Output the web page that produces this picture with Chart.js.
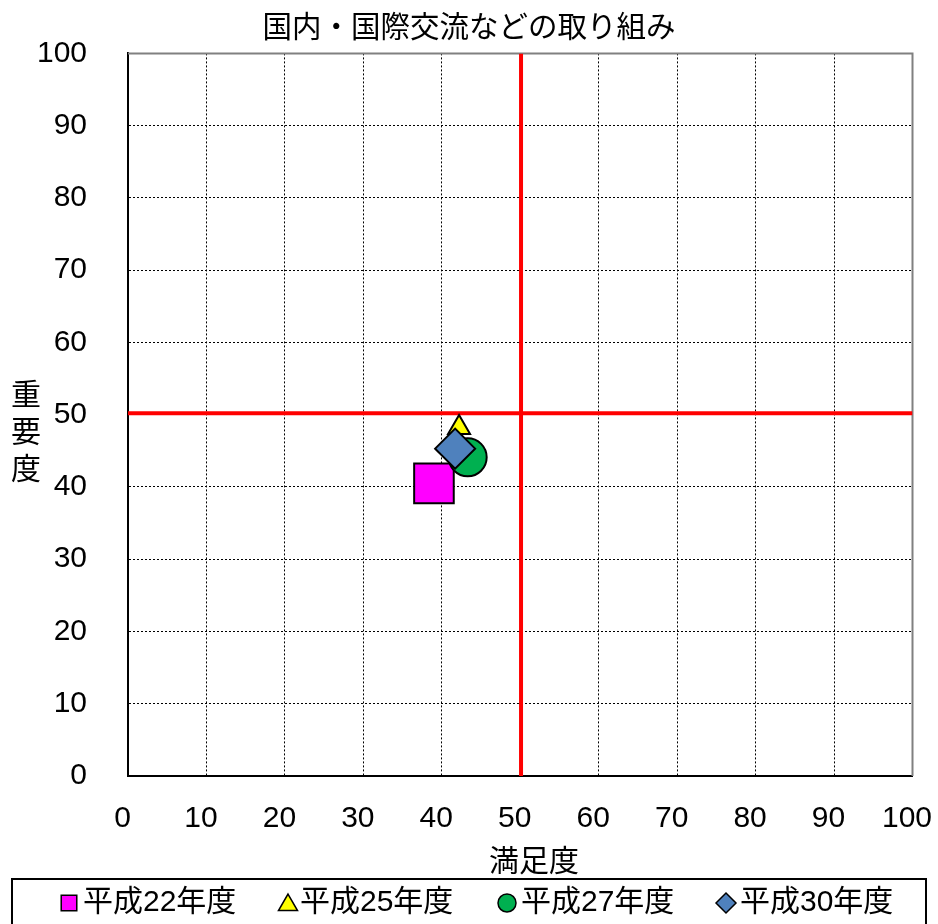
<!DOCTYPE html>
<html>
<head>
<meta charset="utf-8">
<script src="https://cdn.jsdelivr.net/npm/chart.js@4/dist/chart.umd.min.js"></script>
<style>
html,body{margin:0;padding:0;background:#fff;}
#wrap{width:938px;height:924px;}
</style>
</head>
<body>
<div id="wrap"><canvas id="c" width="938" height="924"></canvas></div>
<script>
// ---- data ----
const chartTitle = '国内・国際交流などの取り組み';
const xAxisTitle = '満足度';
const yAxisTitle = ['重', '要', '度'];
const seriesLabels = ['平成22年度', '平成25年度', '平成27年度', '平成30年度'];
const satisfaction = [39.0, 42.2, 43.3, 41.7];
const importance = [40.5, 48.2, 44.1, 45.3];
const avgSatisfaction = 50.1;
const avgImportance = 50.2;
const axisMin = 0;
const axisMax = 100;
const axisStep = 10;

// ---- styles ----
const FONT = '"Liberation Sans", "Noto Sans CJK JP", sans-serif';
const styles = [
  {pointStyle: 'rect', color: '#FF00FF', radius: 28, legendR: 11},
  {pointStyle: 'triangle', color: '#FFFF00', radius: 12.7, legendR: 11},
  {pointStyle: 'circle', color: '#00B050', radius: 19, legendR: 9},
  {pointStyle: 'rectRot', color: '#4F81BD', radius: 20, legendR: 10}
];
const drawOrder = [4, 3, 2, 1];

const datasets = [];
// average lines
datasets.push({
  type: 'line', label: 'avgX',
  data: [{x: avgSatisfaction, y: axisMin}, {x: avgSatisfaction, y: axisMax}],
  borderColor: '#FF0000', borderWidth: 4, pointRadius: 0, showLine: true, fill: false, order: 10
});
datasets.push({
  type: 'line', label: 'avgY',
  data: [{x: axisMin, y: avgImportance}, {x: axisMax, y: avgImportance}],
  borderColor: '#FF0000', borderWidth: 4, pointRadius: 0, showLine: true, fill: false, order: 11
});
seriesLabels.forEach((lab, i) => {
  datasets.push({
    type: 'scatter', label: lab,
    data: [{x: satisfaction[i], y: importance[i]}],
    pointStyle: styles[i].pointStyle,
    pointRadius: styles[i].radius,
    pointHoverRadius: styles[i].radius,
    pointBackgroundColor: styles[i].color,
    pointBorderColor: '#000000',
    pointBorderWidth: 2,
    order: drawOrder[i]
  });
});

function drawMarker(ctx, style, x, y, r) {
  ctx.beginPath();
  if (style === 'rect') {
    const s = r * Math.SQRT1_2;
    ctx.rect(x - s, y - s, 2 * s, 2 * s);
  } else if (style === 'triangle') {
    ctx.moveTo(x, y - r);
    ctx.lineTo(x + r * 0.866, y + r * 0.5);
    ctx.lineTo(x - r * 0.866, y + r * 0.5);
    ctx.closePath();
  } else if (style === 'circle') {
    ctx.arc(x, y, r, 0, Math.PI * 2);
  } else {
    ctx.moveTo(x - r, y);
    ctx.lineTo(x, y - r);
    ctx.lineTo(x + r, y);
    ctx.lineTo(x, y + r);
    ctx.closePath();
  }
  ctx.fill();
  ctx.stroke();
}

const decor = {
  id: 'decor',
  beforeDatasetsDraw(chart) {
    const {ctx, chartArea: a} = chart;
    ctx.save();
    ctx.strokeStyle = '#808080';
    ctx.lineWidth = 2;
    ctx.beginPath();
    ctx.moveTo(a.left, a.top);
    ctx.lineTo(a.right, a.top);
    ctx.lineTo(a.right, a.bottom);
    ctx.stroke();
    ctx.restore();
  },
  afterDraw(chart) {
    const {ctx, chartArea: a} = chart;
    ctx.save();
    ctx.fillStyle = '#000';
    ctx.textAlign = 'center';
    ctx.textBaseline = 'middle';
    ctx.font = '30px ' + FONT;
    // x axis title
    ctx.fillText(xAxisTitle, 534, 863);
    // y axis title (stacked)
    const yc = [397, 434, 471];
    yAxisTitle.forEach((ch, i) => ctx.fillText(ch, 26, yc[i]));
    // legend box
    ctx.strokeStyle = '#000';
    ctx.lineWidth = 2;
    ctx.strokeRect(12, 879, 914, 60);
    // legend items
    const mx = [69, 288, 507, 726];
    const tx = [83, 300, 521, 740];
    const ly = 903;
    ctx.textAlign = 'left';
    seriesLabels.forEach((lab, i) => {
      ctx.fillStyle = styles[i].color;
      ctx.strokeStyle = '#000';
      ctx.lineWidth = 1.5;
      drawMarker(ctx, styles[i].pointStyle, mx[i], ly + (styles[i].pointStyle === 'triangle' ? 2 : 0), styles[i].legendR);
      ctx.fillStyle = '#000';
      ctx.fillText(lab, tx[i], ly);
    });
    ctx.restore();
  }
};

const axisCommon = {
  type: 'linear',
  min: axisMin,
  max: axisMax,
  grid: {color: '#000000', lineWidth: 1, drawTicks: false},
  border: {display: true, color: '#000000', width: 2, dash: [2, 2]}
};

new Chart(document.getElementById('c'), {
  type: 'scatter',
  data: {datasets},
  options: {
    responsive: false,
    animation: false,
    devicePixelRatio: 1,
    layout: {autoPadding: false, padding: {left: 0, right: 0, top: 0, bottom: 78}},
    plugins: {
      legend: {display: false},
      tooltip: {enabled: false},
      title: {
        display: true,
        text: chartTitle,
        color: '#000',
        font: {family: FONT, size: 29.5, weight: 'normal'},
        padding: {top: 11, bottom: 7}
      }
    },
    scales: {
      x: Object.assign({}, axisCommon, {
        position: 'bottom',
        ticks: {stepSize: axisStep, color: '#000', font: {family: FONT, size: 30}, padding: 25, labelOffset: -5.5, maxRotation: 0, autoSkip: false},
        afterFit: s => { s.height = 70; s.paddingLeft = 0; s.paddingRight = 25.5; }
      }),
      y: Object.assign({}, axisCommon, {
        position: 'left',
        ticks: {stepSize: axisStep, color: '#000', font: {family: FONT, size: 30}, padding: 41, autoSkip: false},
        afterFit: s => { s.width = 128; s.paddingTop = 0; s.paddingBottom = 0; }
      })
    }
  },
  plugins: [decor]
});
</script>
</body>
</html>
